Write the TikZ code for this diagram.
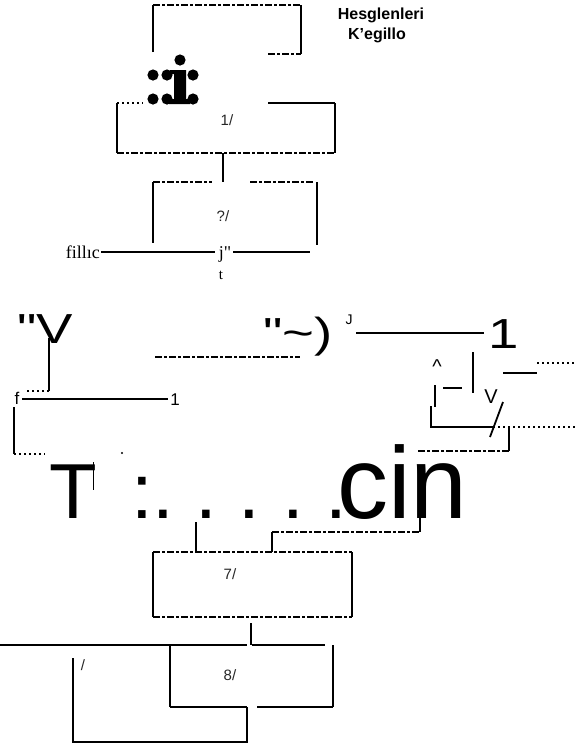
\documentclass[tikz,border=0pt]{standalone}
\usepackage{fontspec}
\setmainfont{Liberation Serif}
\setsansfont{Liberation Sans}
\newfontfamily\rawsans{Liberation Sans}
\newfontfamily\rawserif{Liberation Serif}
\begin{document}
\begin{tikzpicture}[x=1pt,y=-1pt,
  edge/.style={line width=1.8pt},
  thickedge/.style={line width=2.4pt},
  dashedge/.style={line width=1.5pt,dash pattern=on 7pt off 2pt on 3pt off 2pt},
  dotedge/.style={line width=1.3pt,dash pattern=on 2pt off 3pt},
  lbl/.style={inner sep=0pt,font=\sffamily\fontsize{15}{15}\selectfont,text=black!85},
  bigrow/.style={inner sep=0pt,anchor=base west,font=\rawsans\fontsize{42}{42}\selectfont},
  huge/.style={inner sep=0pt,anchor=base,font=\sffamily\fontsize{78}{78}\selectfont},
  serif/.style={inner sep=0pt,font=\rawserif\fontsize{18}{18}\selectfont},
  small/.style={inner sep=0pt,font=\sffamily\fontsize{17}{17}\selectfont},
  hdr/.style={inner sep=0pt,font=\sffamily\bfseries\fontsize{16}{16}\selectfont},
  blob/.style={fill=black,draw=none}]
\useasboundingbox (0,0) rectangle (576,748);
% ---------- coordinates ----------
\coordinate (tbA) at (153,5);   \coordinate (tbB) at (301,5);
\coordinate (tbC) at (301,54);  \coordinate (tbD) at (153,52);
\coordinate (tbE) at (268,54);
\coordinate (b1A) at (117,103); \coordinate (b1B) at (335,103);
\coordinate (b1C) at (335,153); \coordinate (b1D) at (117,153);
\coordinate (b1E) at (143,103); \coordinate (b1F) at (268,103);
\coordinate (c1a) at (223,153); \coordinate (c1b) at (223,182);
\coordinate (b3A) at (153,182); \coordinate (b3B) at (317,182);
\coordinate (b3C) at (317,245); \coordinate (b3D) at (153,243);
\coordinate (b3E) at (212,182); \coordinate (b3F) at (250,182); \coordinate (b3G) at (313,182);
\coordinate (h1a) at (101,252); \coordinate (h1b) at (215,252);
\coordinate (h1c) at (233,252); \coordinate (h1d) at (310,252);
% ---------- top box ----------
\draw[edge] (tbD) -- (tbA);
\draw[dashedge] (tbA) -- (tbB);
\draw[edge] (tbB) -- (tbC);
\draw[dashedge] (tbE) -- (tbC);
\node[hdr] (hd1) at (381,15) {Hesglenleri};
\node[hdr] (hd2) at (377,35) {K’egillo};
% ---------- dotted i symbol ----------
\foreach \p/\n in {{(180,60)}/d0,{(153,75)}/d1,{(167,75)}/d2,{(193,75)}/d3,{(153,99)}/d4,{(167,99)}/d5,{(193,99)}/d6}
  \fill \p coordinate (\n) circle (5.6);
\fill[blob] (170,70) -- (186,70) -- (186,99) -- (190,99) -- (190,104) -- (169,104) -- (169,99) -- (174,99) -- (174,74) -- (170,74) -- cycle;
% ---------- box 1 ----------
\draw[edge] (b1A) -- (b1D);
\draw[edge] (b1B) -- (b1C);
\draw[dotedge] (b1A) -- (b1E);
\draw[edge] (b1F) -- (b1B);
\draw[dashedge] (b1D) -- (b1C);
\node[lbl] (l1) at (227,120) {1/};
\draw[edge] (c1a) -- (c1b);
% ---------- box 3 ----------
\draw[edge] (b3A) -- (b3D);
\draw[edge] (b3B) -- (b3C);
\draw[dashedge] (b3A) -- (b3E);
\draw[dashedge] (b3F) -- (b3G);
\node[lbl] (l3) at (223,216) {?/};
\draw[thickedge] (h1a) -- (h1b);
\draw[thickedge] (h1c) -- (h1d);
\node[serif,anchor=base east] (fil) at (100,258) {fillıc};
\node[serif,anchor=base] (jq) at (225,258) {j"};
\node[serif,anchor=base,font=\rawserif\fontsize{15}{15}\selectfont] (tt) at (221,279) {t};
% ---------- middle row ----------
\node[bigrow] (qv) at (17,343) {\scalebox{1.3}[1]{"V}};
\coordinate (vs1) at (49,338); \coordinate (vs2) at (49,391); \coordinate (vs3) at (27,391);
\draw[edge] (vs1) -- (vs2);
\draw[dotedge] (vs2) -- (vs3);
\coordinate (dl1) at (155,357); \coordinate (dl2) at (300,357);
\draw[dashedge] (dl1) -- (dl2);
\node[bigrow] (qt) at (263,347) {\scalebox{1.3}[1]{"\char"007E)}};
\node[small,font=\sffamily\fontsize{14}{14}\selectfont] (jj) at (349,320) {J};
\coordinate (ln1) at (356,333); \coordinate (ln2) at (484,333);
\draw[thickedge] (ln1) -- (ln2);
\node[bigrow] (one) at (488,348) {\scalebox{1.3}[1]{1}};
% f line
\node[small,anchor=base] (ff) at (17,404) {f};
\coordinate (fl1) at (22,399); \coordinate (fl2) at (168,399);
\draw[thickedge] (fl1) -- (fl2);
\node[small,anchor=base] (f1) at (175,405) {1};
\coordinate (lb1) at (14,407); \coordinate (lb2) at (14,454); \coordinate (lb3) at (45,454);
\draw[edge] (lb1) -- (lb2);
\draw[dotedge] (lb2) -- (lb3);
\fill (122,453) coordinate (dotA) circle (1.2);
% right cluster
\node[small,font=\sffamily\fontsize{20}{20}\selectfont] (car) at (437,367) {\textasciicircum};
\coordinate (r1) at (435,385); \coordinate (r2) at (435,407);
\draw[line width=1.4pt] (r1) -- (r2);
\coordinate (r3) at (431,406); \coordinate (r4) at (431,427); \coordinate (r5) at (493,427); \coordinate (r6) at (575,427);
\draw[edge] (r3) -- (r4) -- (r5);
\draw[dotedge] (r5) -- (r6);
\coordinate (m1) at (443,388); \coordinate (m2) at (462,388);
\draw[line width=2.6pt] (m1) -- (m2);
\coordinate (bar1) at (473,352); \coordinate (bar2) at (473,393);
\draw[edge] (bar1) -- (bar2);
\node[small,font=\sffamily\fontsize{20}{20}\selectfont] (vv) at (491,397) {V};
\coordinate (sl1) at (490,437); \coordinate (sl2) at (503,402);
\draw[edge] (sl1) -- (sl2);
\coordinate (dd1) at (503,373); \coordinate (dd2) at (537,373);
\coordinate (dd3) at (537,363); \coordinate (dd4) at (575,363);
\draw[edge] (dd1) -- (dd2);
\draw[dotedge] (dd3) -- (dd4);
\coordinate (k1) at (509,427); \coordinate (k2) at (509,451); \coordinate (k3) at (417,451);
\draw[edge] (k1) -- (k2);
\draw[dashedge] (k2) -- (k3);
% ---------- big text row ----------
\node[huge,anchor=base west] (TT) at (49,518) {T};
\coordinate (tl1) at (93,462); \coordinate (tl2) at (93,490);
\draw[line width=0.9pt] (tl1) -- (tl2);
\node[huge] (col) at (142,518) {:};
\foreach \x/\n in {163/p1,206/p2,249/p3,293/p4,336/p5}
  \node[huge] (\n) at (\x,518) {.};
\node[inner sep=0pt,anchor=base west,font=\sffamily\fontsize{102}{102}\selectfont] (cin) at (337,518) {cin};
% ---------- lower connectors ----------
\coordinate (c2a) at (196,522); \coordinate (c2b) at (196,552);
\draw[edge] (c2a) -- (c2b);
\coordinate (c3a) at (272,552); \coordinate (c3b) at (272,532); \coordinate (c3c) at (420,532); \coordinate (c3d) at (420,517);
\draw[edge] (c3a) -- (c3b);
\draw[dashedge] (c3b) -- (c3c);
\draw[edge] (c3c) -- (c3d);
% ---------- box 7 ----------
\coordinate (b7A) at (153,552); \coordinate (b7B) at (352,552);
\coordinate (b7C) at (352,617); \coordinate (b7D) at (153,617);
\draw[edge] (b7A) -- (b7D);
\draw[edge] (b7B) -- (b7C);
\draw[dashedge] (b7A) -- (b7B);
\draw[dashedge] (b7D) -- (b7C);
\node[lbl] (l7) at (230,574) {7/};
\coordinate (c4a) at (251,623); \coordinate (c4b) at (251,645);
\draw[line width=1.2pt] (c4a) -- (c4b);
\coordinate (h2a) at (0,645); \coordinate (h2b) at (247,645);
\coordinate (h2c) at (252,645); \coordinate (h2d) at (325,645);
\draw[thickedge] (h2a) -- (h2b);
\draw[thickedge] (h2c) -- (h2d);
% ---------- box 8 ----------
\coordinate (b8A) at (170,645); \coordinate (b8B) at (333,645);
\coordinate (b8C) at (333,707); \coordinate (b8D) at (170,707);
\coordinate (b8E) at (247,707); \coordinate (b8F) at (257,707);
\draw[edge] (b8A) -- (b8D);
\draw[edge] (b8B) -- (b8C);
\draw[edge] (b8D) -- (b8E);
\draw[edge] (b8F) -- (b8C);
\node[lbl] (l8) at (230,675) {8/};
\coordinate (lp1) at (247,742); \coordinate (lp2) at (73,742); \coordinate (lp3) at (73,658);
\draw[edge] (b8E) -- (lp1) -- (lp2) -- (lp3);
\node[lbl] (sl) at (83,665) {/};
\end{tikzpicture}
\end{document}
